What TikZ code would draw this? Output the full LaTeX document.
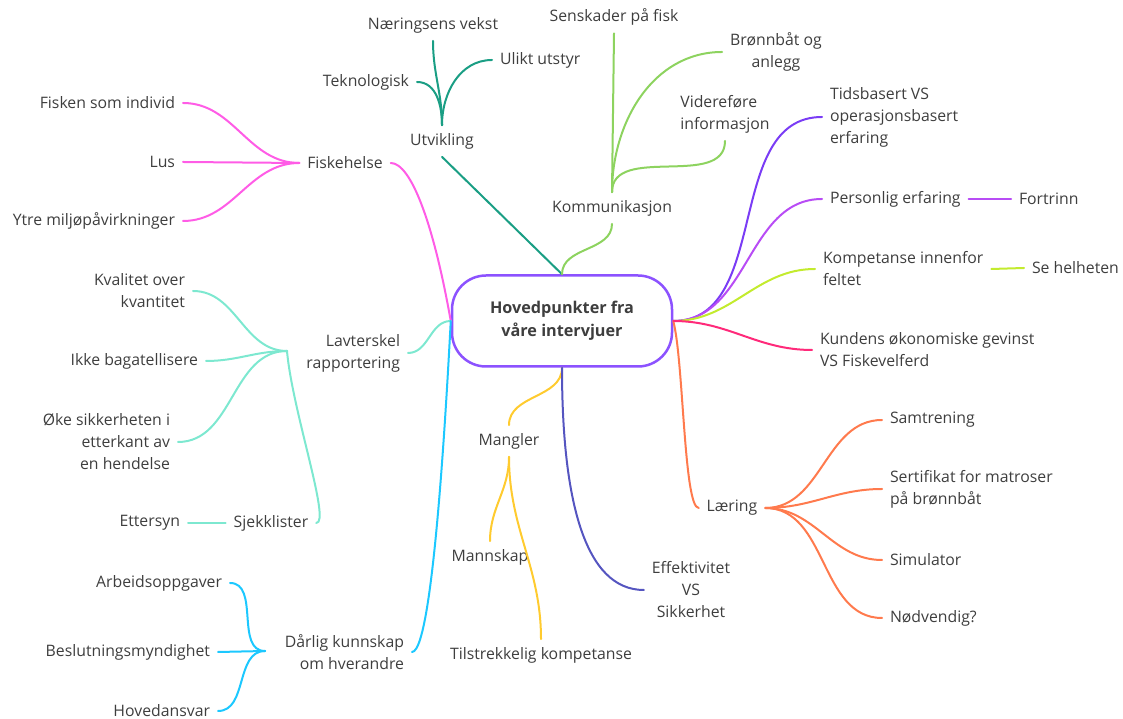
\documentclass[tikz,border=0pt]{standalone}
\usepackage{fontspec}
\setmainfont{Open Sans}
\usetikzlibrary{positioning}

\definecolor{tekst}{RGB}{62,62,62}
\definecolor{lilla}{RGB}{140,82,255}
\definecolor{teal}{RGB}{26,158,132}
\definecolor{gronn}{RGB}{141,211,95}
\definecolor{rosa}{RGB}{255,92,230}
\definecolor{mint}{RGB}{125,232,208}
\definecolor{cyan}{RGB}{28,200,255}
\definecolor{gul}{RGB}{255,203,47}
\definecolor{indigo}{RGB}{85,85,192}
\definecolor{oransje}{RGB}{255,122,77}
\definecolor{fiolett}{RGB}{122,60,245}
\definecolor{lyslilla}{RGB}{184,76,245}
\definecolor{limegronn}{RGB}{195,235,46}
\definecolor{karmin}{RGB}{255,42,122}

\tikzset{
  idea/.style={text=tekst, inner sep=4pt, outer sep=4pt, font=\fontsize{15.8}{22}\selectfont},
  hubbox/.style={draw=lilla, line width=2.5pt, rounded corners=34pt, fill=white,
    minimum width=220pt, minimum height=91pt, align=center, text=tekst,
    font=\fontsize{16.2}{23}\selectfont\bfseries},
  gren/.style={line width=2pt, line cap=round},
}

\begin{document}
\begin{tikzpicture}[x=1pt,y=1pt]
	\useasboundingbox (0,0) rectangle (1123,719);

	\node[hubbox] (hub) at (562,398) {Hovedpunkter fra\\våre intervjuer};

	%%% UTVIKLING
	\node[idea] (utv) at (442,578) {Utvikling};
	\node[idea] (naer) at (433,694) {Næringsens vekst};
	\node[idea, anchor=east] (tekno) at (417,637) {Teknologisk};
	\node[idea, anchor=west] (ulikt) at (492,659) {Ulikt utstyr};

	%%% KOMMUNIKASJON
	\node[idea] (komm) at (612,511) {Kommunikasjon};
	\node[idea] (sensk) at (614,702) {Senskader på fisk};
	\node[idea, align=center] (bronn) at (776,667) {Brønnbåt og\\anlegg};
	\node[idea, align=left] (vid) at (725,605) {Videreføre\\informasjon};

	%%% FISKEHELSE
	\node[idea] (fisk) at (345,556) {Fiskehelse};
	\node[idea, anchor=east] (fiskind) at (183,616) {Fisken som individ};
	\node[idea, anchor=east] (lus) at (183,557) {Lus};
	\node[idea, anchor=east] (ytre) at (183,498) {Ytre miljøpåvirkninger};

	%%% LAVTERSKEL
	\node[idea, anchor=east, align=right] (lav) at (408,366) {Lavterskel\\rapportering};
	\coordinate (lavJ) at (287,368);
	\node[idea, anchor=east, align=right] (kval) at (193,428) {Kvalitet over\\kvantitet};
	\node[idea, anchor=east] (ikke) at (206,358) {Ikke bagatellisere};
	\node[idea, anchor=east, align=right] (oke) at (178,277) {Øke sikkerheten i\\etterkant av\\en hendelse};
	\node[idea] (sjekk) at (271,196) {Sjekklister};
	\node[idea, anchor=east] (etter) at (188,196) {Ettersyn};

	%%% DÅRLIG KUNNSKAP
	\node[idea, anchor=east, align=right] (dar) at (412,67) {Dårlig kunnskap\\om hverandre};
	\coordinate (darJ) at (265,68);
	\node[idea, anchor=east] (arb) at (230,136) {Arbeidsoppgaver};
	\node[idea, anchor=east] (besl) at (218,67) {Beslutningsmyndighet};
	\node[idea, anchor=east] (hoved) at (218,8) {Hovedansvar};

	%%% MANGLER
	\node[idea] (mangl) at (509,278) {Mangler};
	\node[idea] (mann) at (490,162) {Mannskap};
	\node[idea] (tilstr) at (541,64) {Tilstrekkelig kompetanse};

	\node[idea, align=center] (eff) at (691,129) {Effektivitet\\VS\\Sikkerhet};

	%%% LÆRING
	\node[idea] (laer) at (732,211) {Læring};
	\node[idea, anchor=west] (samt) at (882,299) {Samtrening};
	\node[idea, anchor=west, align=left] (sert) at (882,230) {Sertifikat for matroser\\på brønnbåt};
	\node[idea, anchor=west] (simul) at (882,159) {Simulator};
	\node[idea, anchor=west] (nodv) at (882,101) {Nødvendig?};

	%%% HØYRE SIDE
	\node[idea, anchor=west, align=left] (tids) at (822,602) {Tidsbasert VS\\operasjonsbasert\\erfaring};
	\node[idea, anchor=west] (pers) at (822,520) {Personlig erfaring};
	\node[idea, anchor=west] (fortr) at (1011,520) {Fortrinn};
	\node[idea, anchor=west, align=left] (komp) at (815,450) {Kompetanse innenfor\\feltet};
	\node[idea, anchor=west] (sehel) at (1024,451) {Se helheten};
	\node[idea, anchor=west, align=left] (kund) at (812,369) {Kundens økonomiske gevinst\\VS Fiskevelferd};

	%%% GRENER
	\draw[gren, teal] (hub.north) -- (utv.south);
	\draw[gren, teal] (utv.north) to[out=90,in=-90] (naer.south);
	\draw[gren, teal] (utv.north) to[out=90,in=0] (tekno.east);
	\draw[gren, teal] (utv.north) to[out=90,in=180] (ulikt.west);

	\draw[gren, gronn] (hub.north) to[out=90,in=-90] (komm.south);
	\draw[gren, gronn] (komm.north) -- (sensk.south);
	\draw[gren, gronn] (komm.north) to[out=90,in=180] (bronn.west);
	\draw[gren, gronn] (komm.north) to[out=90,in=-90] (vid.south);

	\draw[gren, rosa] (hub.west) to[out=100,in=0,out distance=100,in distance=20] (fisk.east);
	\draw[gren, rosa] (fisk.west) to[out=180,in=0] (fiskind.east);
	\draw[gren, rosa] (fisk.west) -- (lus.east);
	\draw[gren, rosa] (fisk.west) to[out=180,in=0] (ytre.east);

	\draw[gren, mint] (hub.west) to[out=180,in=0] (lav.east);
	\draw[gren, mint] (lavJ) to[out=180,in=0] (kval.east);
	\draw[gren, mint] (lavJ) to[out=180,in=0] (ikke.east);
	\draw[gren, mint] (lavJ) to[out=180,in=0] (oke.east);
	\draw[gren, mint] (lavJ) to[out=-85,in=0,out distance=60,in distance=15] (sjekk.east);
	\draw[gren, mint] (sjekk.west) -- (etter.east);

	\draw[gren, cyan] (hub.west) to[out=-93,in=0,out distance=250,in distance=12] (dar.east);
	\draw[gren, cyan] (darJ) to[out=180,in=0] (arb.east);
	\draw[gren, cyan] (darJ) -- (besl.east);
	\draw[gren, cyan] (darJ) to[out=180,in=0] (hoved.east);

	\draw[gren, gul] (hub.south) to[out=-90,in=90] (mangl.north);
	\draw[gren, gul] (mangl.south) to[out=-90,in=90] (mann.north);
	\draw[gren, gul] (mangl.south) to[out=-90,in=90] (tilstr.north);

	\draw[gren, indigo] (hub.south) to[out=-90,in=180,out distance=130,in distance=60] (eff.west);

	\draw[gren, oransje] (hub.east) to[out=-75,in=180,out distance=40,in distance=15] (laer.west);
	\draw[gren, oransje] (laer.east) to[out=0,in=180] (samt.west);
	\draw[gren, oransje] (laer.east) to[out=0,in=180] (sert.west);
	\draw[gren, oransje] (laer.east) to[out=0,in=180] (simul.west);
	\draw[gren, oransje] (laer.east) to[out=0,in=180] (nodv.west);

	\draw[gren, fiolett] (hub.east) to[out=0,in=180] (tids.west);
	\draw[gren, lyslilla] (hub.east) to[out=0,in=180] (pers.west);
	\draw[gren, lyslilla] (pers.east) -- (fortr.west);
	\draw[gren, limegronn] (hub.east) to[out=0,in=180] (komp.west);
	\draw[gren, limegronn] (komp.east) -- (sehel.west);
	\draw[gren, karmin] (hub.east) to[out=0,in=180] (kund.west);
\end{tikzpicture}
\end{document}
